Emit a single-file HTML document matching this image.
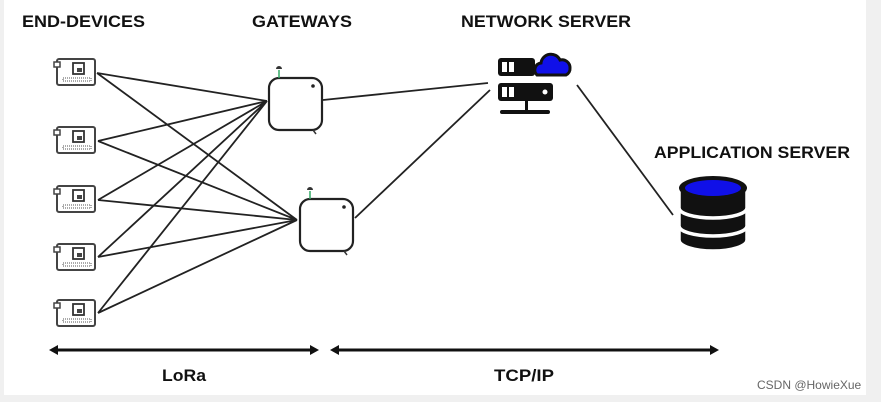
<!DOCTYPE html>
<html><head><style>body{margin:0;background:#fff}svg{display:block}</style></head><body>
<svg width="881" height="402" viewBox="0 0 881 402" xmlns="http://www.w3.org/2000/svg" font-family="Liberation Sans, sans-serif">
<rect width="881" height="402" fill="#fff"/>
<rect x="866" y="0" width="15" height="402" fill="#f0f0f0"/>
<rect x="0" y="395" width="881" height="7" fill="#f0f0f0"/>
<rect x="0" y="0" width="4" height="402" fill="#f0f0f0"/>
<g font-weight="bold" font-size="17" fill="#111">
<text x="22" y="27" textLength="123" lengthAdjust="spacingAndGlyphs">END-DEVICES</text>
<text x="252" y="27" textLength="100" lengthAdjust="spacingAndGlyphs">GATEWAYS</text>
<text x="461" y="27" textLength="170" lengthAdjust="spacingAndGlyphs">NETWORK SERVER</text>
<text x="654" y="158" textLength="196" lengthAdjust="spacingAndGlyphs">APPLICATION SERVER</text>
<text x="162" y="381" textLength="44" lengthAdjust="spacingAndGlyphs">LoRa</text>
<text x="494" y="381" textLength="60" lengthAdjust="spacingAndGlyphs">TCP/IP</text>
</g>
<text x="757" y="389" font-size="12" fill="#666">CSDN @HowieXue</text>
<g stroke="#222" stroke-width="1.8" fill="none">
<path d="M97 73L267 101M97 73L297 220M98 141L267 101M98 141L297 220M98 200L267 101M98 200L297 220M98 257L267 101M98 257L297 220M98 313L267 101M98 313L297 220"/>
<path d="M323 100L488 83M355 218L490 90M577 85L673 215"/>
</g>
<defs>
<g id="d">
<rect x="0" y="0" width="38" height="26" rx="2" fill="#fff" stroke="#444" stroke-width="2"/>
<rect x="-3" y="3" width="6" height="5" fill="#fff" stroke="#444" stroke-width="1.5"/>
<rect x="16" y="4" width="11" height="11" fill="#fff" stroke="#333" stroke-width="1.8"/>
<rect x="20" y="9" width="5" height="4" fill="#444"/>
<rect x="6" y="19" width="28" height="3" fill="#fff" stroke="#555" stroke-dasharray="1 1"/>
</g>
<g id="g">
<rect x="0" y="0" width="53" height="52" rx="10" fill="#fff" stroke="#222" stroke-width="2.2"/>
<circle cx="44" cy="8" r="1.8" fill="#222"/>
<line x1="10" y1="0" x2="10" y2="-8" stroke="#3a6" stroke-width="1.5"/>
<path d="M7 -9a3 3 0 0 1 6 0z" fill="#333"/>
<path d="M44 52l3 4" stroke="#333" stroke-width="1.5"/>
</g>
</defs>
<use href="#d" x="57" y="59"/>
<use href="#d" x="57" y="127"/>
<use href="#d" x="57" y="186"/>
<use href="#d" x="57" y="244"/>
<use href="#d" x="57" y="300"/>
<use href="#g" x="269" y="78"/>
<use href="#g" x="300" y="199"/>
<g fill="#111">
<rect x="498" y="58" width="37" height="18" rx="3"/>
<rect x="498" y="83" width="55" height="18" rx="3"/>
<rect x="525" y="101" width="3" height="10"/>
<rect x="500" y="110" width="50" height="4" rx="2"/>
</g>
<g fill="#fff"><rect x="502" y="62" width="5" height="10"/><rect x="509" y="62" width="5" height="10"/><rect x="502" y="87" width="5" height="10"/><rect x="509" y="87" width="5" height="10"/><circle cx="545" cy="92" r="2.5"/></g>
<path d="M537 75a7 7 0 0 1 4-12a10 10 0 0 1 19-3a8 8 0 0 1 10 8a7 7 0 0 1-4 7z" fill="#1010e8" stroke="#111" stroke-width="3"/>
<g stroke="#fff" stroke-width="3.5">
<path d="M679 188v52a34 11 0 0 0 68 0v-52z" fill="#111"/>
<path d="M679 208a34 10 0 0 0 68 0M679 226a34 10 0 0 0 68 0" fill="none"/>
<ellipse cx="713" cy="188" rx="34" ry="12" fill="#111" stroke="none"/>
<ellipse cx="713" cy="188" rx="28" ry="8" fill="#1010e8" stroke="none"/>
</g>
<g stroke="#111" stroke-width="3"><line x1="56" y1="350" x2="312" y2="350"/><line x1="337" y1="350" x2="712" y2="350"/></g>
<g fill="#111"><path d="M49 350l9-5v10z"/><path d="M319 350l-9-5v10z"/><path d="M330 350l9-5v10z"/><path d="M719 350l-9-5v10z"/></g>
</svg>
</body></html>
